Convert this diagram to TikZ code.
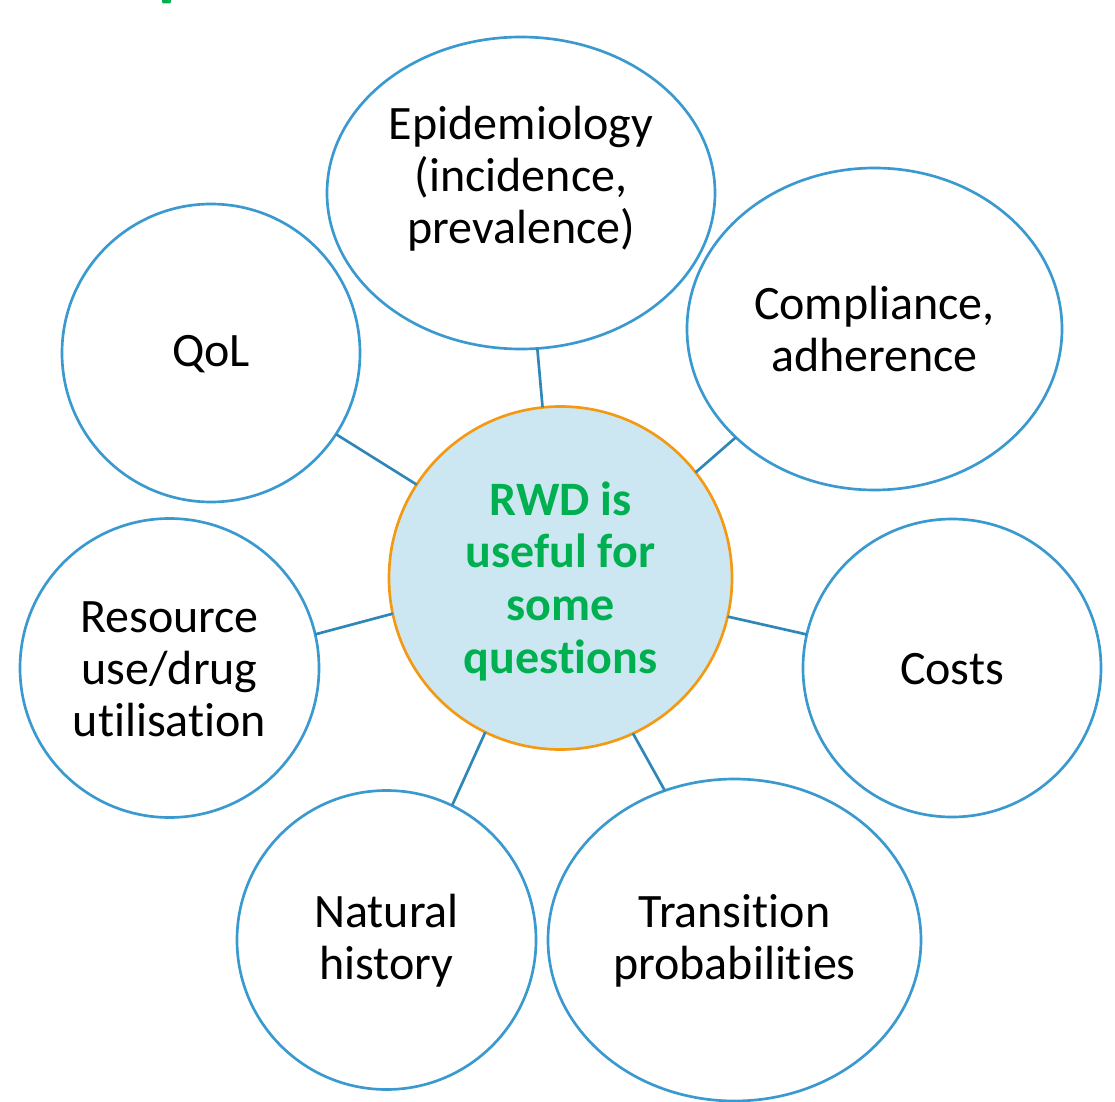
\documentclass[tikz,border=0pt]{standalone}
\usepackage{fontspec}
\setmainfont[Ligatures=NoCommon]{Carlito}
\usetikzlibrary{shapes.geometric}
\definecolor{ringblue}{HTML}{3A9AD0}
\definecolor{linkblue}{HTML}{2E87B8}
\definecolor{hubfill}{HTML}{CCE7F2}
\definecolor{huborange}{HTML}{F39A12}
\definecolor{hubgreen}{HTML}{00B050}
\tikzset{
  bubble/.style={circle, draw=ringblue, line width=2pt, fill=white,
    inner sep=0pt, outer sep=0pt, minimum size=#1*0.75pt},
  oval/.style n args={2}{ellipse, draw=ringblue, line width=2pt, fill=white,
    inner sep=0pt, outer sep=0pt, minimum width=#1*0.75pt, minimum height=#2*0.75pt},
  hub/.style={circle, draw=huborange, line width=2pt, fill=hubfill,
    inner sep=0pt, outer sep=0pt, minimum size=343*0.75pt},
  link/.style={draw=linkblue, line width=2pt},
  lbl/.style={align=center, font=\fontsize{36}{39}\selectfont, text=black},
  hublbl/.style={align=center, font=\fontsize{36}{39.5}\selectfont\bfseries, text=hubgreen}
}
\begin{document}
\begin{tikzpicture}[x=0.75pt, y=-0.75pt]
\useasboundingbox (0,0) rectangle (1115,1102);

% fragment of the green heading cut off at the top edge
\fill[hubgreen, rounded corners=1pt] (162,-3) rectangle (171,3.5);

% outer topics
\node[oval={388}{312}] (epi) at (521,193) {};
\node[bubble=298] (qol) at (211,353) {};
\node[oval={375}{322}] (comp) at (874.5,329) {};
\node[bubble=299] (res) at (169.5,668) {};
\node[bubble=298] (cost) at (952,668) {};
\node[bubble=299] (nat) at (386.5,940) {};
\node[oval={373}{322}] (trans) at (734.5,940) {};

% central hub
\node[hub] (hub) at (560.5,578) {};

% spokes
\draw[link] (hub.96) -- (epi.276);
\draw[link] (hub.147) -- (qol.327);
\draw[link] (hub.38.3) -- (comp.218.3);
\draw[link] (hub.192.8) -- (res.13);
\draw[link] (hub.347) -- (cost.167.3);
\draw[link] (hub.244.3) -- (nat.64.1);
\draw[link] (hub.295.7) -- (trans.115.8);

% labels
\node[lbl] (epit) at (521,179) {Epidemiology\\(incidence,\\prevalence)};
\node[lbl] (qolt) at (211,354) {QoL};
\node[lbl] (compt) at (874.5,329) {Compliance,\\adherence};
\node[lbl] (rest) at (169.5,669) {Resource\\use/drug\\utilisation};
\node[lbl] (costt) at (952,669) {Costs};
\node[lbl] (natt) at (386.5,941) {Natural\\history};
\node[lbl] (transt) at (734.5,941) {Transition\\probabilities};
\node[hublbl] (hubt) at (560.5,581) {RWD is\\useful for\\some\\questions};
\end{tikzpicture}
\end{document}
